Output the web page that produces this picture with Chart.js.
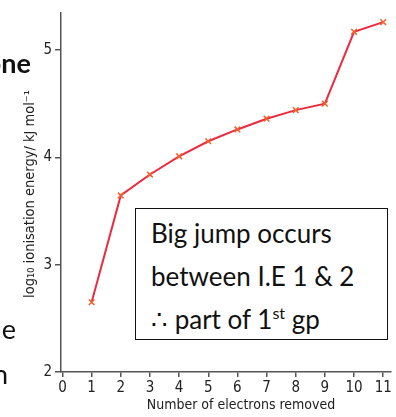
<!DOCTYPE html>
<html>
<head>
<meta charset="utf-8">
<script src="https://cdn.jsdelivr.net/npm/chart.js@4.4.0/dist/chart.umd.min.js"></script>
<style>
  html, body { margin: 0; padding: 0; background: #fff; }
  #wrap { position: relative; width: 396px; height: 417px; overflow: hidden; }
  #chart { position: absolute; left: 0; top: 0; }
  .frag { position: absolute; font-family: Lato, "Open Sans", sans-serif; font-size: 27px; color: #111; white-space: nowrap; }
  #note {
    position: absolute; left: 135px; top: 208px; width: 253px; height: 132px;
    border: 1.5px solid #111; background: #fff;
    font-family: Lato, "Open Sans", sans-serif; font-size: 26px; color: #111;
    padding: 3px 0 0 15px; box-sizing: border-box; line-height: 43px;
  }
  #note sup { font-size: 16px; vertical-align: 10px; line-height: 0; }
</style>
</head>
<body>
<div id="wrap">
  <canvas id="chart" width="396" height="417"></canvas>
  <div class="frag" style="right:365px; top:46px; font-weight:bold;">one</div>
  <div class="frag" style="right:380px; top:312px;">ue</div>
  <div class="frag" style="right:388px; top:357px;">n</div>
  <div id="note">Big jump occurs<br>between I.E 1 &amp; 2<br>∴ part of 1<sup>st</sup> gp</div>
</div>
<script>
// electrons removed vs log10 of ionisation energy
const electrons = [1, 2, 3, 4, 5, 6, 7, 8, 9, 10, 11];
const logIE = [2.65, 3.645, 3.84, 4.01, 4.15, 4.26, 4.36, 4.44, 4.50, 5.17, 5.26];
const xTicks = [0, 1, 2, 3, 4, 5, 6, 7, 8, 9, 10, 11];
const yTicks = [2, 3, 4, 5];

const axisFont = { family: '"DejaVu Sans Condensed", "Liberation Sans Narrow", sans-serif', size: 15 };

// titles drawn by hand so they sit where the book has them
const axisTitles = {
  id: 'axisTitles',
  afterDraw(chart) {
    const ctx = chart.ctx;
    ctx.save();
    ctx.fillStyle = '#222';
    ctx.font = '14px "DejaVu Sans Condensed", "Liberation Sans Narrow", sans-serif';
    ctx.textAlign = 'center';
    ctx.textBaseline = 'middle';
    ctx.fillText('Number of electrons removed', 241, 405);

    ctx.font = '14.5px "DejaVu Sans Condensed", "Liberation Sans Narrow", sans-serif';
    ctx.translate(30, 194);
    ctx.rotate(-Math.PI / 2);
    ctx.fillText('log\u2081\u2080 ionisation energy/ kJ mol\u207B\u00B9', 0, 0);
    ctx.restore();
  }
};

new Chart(document.getElementById('chart'), {
  type: 'line',
  data: {
    datasets: [{
      data: electrons.map((e, i) => ({ x: e, y: logIE[i] })),
      borderColor: '#ec2a40',
      borderWidth: 2,
      pointStyle: 'crossRot',
      pointRadius: 4,
      pointBorderColor: '#f2602a',
      pointBorderWidth: 1.5,
      tension: 0
    }]
  },
  options: {
    responsive: false,
    animation: false,
    layout: { padding: { top: 13, right: 4, left: 0, bottom: 0 } },
    plugins: { legend: { display: false }, tooltip: { enabled: false } },
    scales: {
      x: {
        type: 'linear',
        min: -0.05,
        max: 11.25,
        afterFit(s) { s.height = 45; },
        afterBuildTicks(s) { s.ticks = xTicks.map(v => ({ value: v })); },
        grid: { drawOnChartArea: false, color: '#555', tickLength: 5, lineWidth: 1.5 },
        border: { color: '#555', width: 1.5 },
        ticks: { color: '#222', font: axisFont, padding: 2, maxRotation: 0 }
      },
      y: {
        min: 2,
        max: 5.345,
        afterFit(s) { s.width = 61; },
        afterBuildTicks(s) { s.ticks = yTicks.map(v => ({ value: v })); },
        grid: { drawOnChartArea: false, color: '#555', tickLength: 6, lineWidth: 1.5 },
        border: { color: '#555', width: 1.5 },
        ticks: { color: '#222', font: axisFont, padding: 3 }
      }
    }
  },
  plugins: [axisTitles]
});
</script>
</body>
</html>
